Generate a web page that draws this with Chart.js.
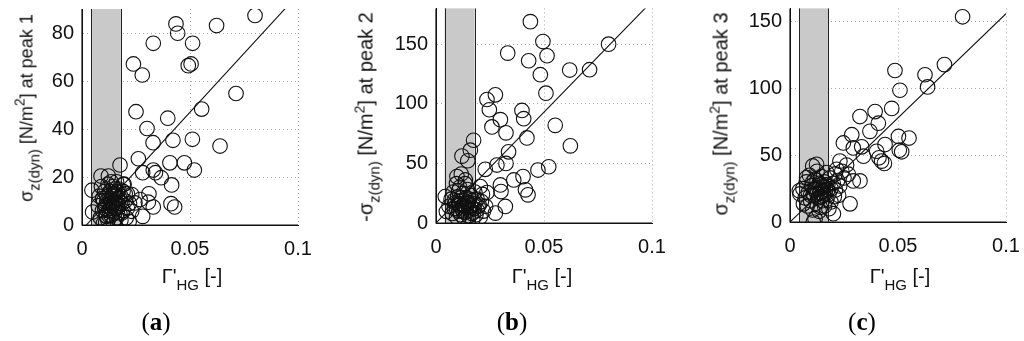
<!DOCTYPE html>
<html>
<head>
<meta charset="utf-8">
<script src="https://cdn.jsdelivr.net/npm/chart.js@4.4.0/dist/chart.umd.min.js"></script>
<style>
html,body{margin:0;padding:0;background:#fff;width:1024px;height:341px;overflow:hidden;}
canvas{position:absolute;left:0;top:0;}
.t{position:absolute;font-family:"Liberation Sans",Arial,sans-serif;font-size:20px;color:#111;white-space:nowrap;line-height:1;}
.yt{transform:translate(-50%,-50%) rotate(-90deg);}
.xt{transform:translate(-50%,-50%);}
.t sub{font-size:15px;vertical-align:-7px;}
.t sup{font-size:14px;vertical-align:8px;}
.pl{position:absolute;font-family:"Liberation Serif","Times New Roman",serif;font-size:25px;color:#000;transform:translate(-50%,-50%);white-space:nowrap;}
.pl b{font-weight:bold;}
</style>
</head>
<body>
<canvas id="ca" width="1024" height="341"></canvas>
<canvas id="cb" width="1024" height="341"></canvas>
<canvas id="cc" width="1024" height="341"></canvas>

<div class="t yt" style="left:27px;top:108px;font-size:18px;">σ<sub>z(dyn)</sub> [N/m<sup>2</sup>] at peak 1</div>
<div class="t yt" style="left:367px;top:117px;">-σ<sub>z(dyn)</sub> [N/m<sup>2</sup>] at peak 2</div>
<div class="t yt" style="left:722px;top:114px;">σ<sub>z(dyn)</sub> [N/m<sup>2</sup>] at peak 3</div>
<div class="t xt" style="left:192px;top:279px;">Γ'<sub>HG</sub> [-]</div>
<div class="t xt" style="left:542px;top:279px;">Γ'<sub>HG</sub> [-]</div>
<div class="t xt" style="left:900px;top:279px;">Γ'<sub>HG</sub> [-]</div>
<div class="pl" style="left:156px;top:322px;">(<b>a</b>)</div>
<div class="pl" style="left:512px;top:322px;">(<b>b</b>)</div>
<div class="pl" style="left:862px;top:322px;">(<b>c</b>)</div>

<script>
// ---- data ----
const xTickValues = [0, 0.05, 0.1];
const xTickLabels = ["0", "0.05", "0.1"];
const yTicksA = [0, 20, 40, 60, 80];
const yTicksB = [0, 50, 100, 150];
const yTicksC = [0, 50, 100, 150];
const yMaxA = 90, yMaxB = 180, yMaxC = 160;
const bandA = [0.0043, 0.018];
const bandB = [0.0040, 0.0179];
const bandC = [0.0042, 0.0177];
const fitA = [[0, -2], [0.1, 96]];
const fitB = [[0, 0], [0.1, 186]];
const fitC = [[0, 0], [0.1, 156]];

const peak1 = [
[0.0801,87.3],[0.0623,83.1],[0.0435,83.8],[0.0443,79.9],[0.0512,75.7],[0.033,75.7],[0.0238,67.1],[0.0279,62.5],
[0.0492,66.4],[0.0505,67.1],[0.0713,54.8],[0.0554,48.3],[0.025,47.2],[0.0397,44.5],[0.0301,40.2],[0.0329,34.3],
[0.0421,35.3],[0.0511,35.7],[0.0639,32.9],[0.0261,27.6],[0.0407,25.9],[0.0474,25.9],[0.052,22.9],[0.033,22.9],
[0.034,21.8],[0.0367,19.7],[0.0281,21.8],[0.0176,25.0],[0.0415,16.7],[0.0412,8.9],[0.0429,7.5],[0.033,7.5],
[0.0307,9.5],[0.031,13.0],[0.0281,3.6],[0.0218,1.5],[0.0088,20.4],[0.0122,20.4],[0.0046,14.5],[0.0049,5.4],
[0.0099,0.6],[0.0114,3.6],[0.023,12.7],[0.0245,9.2],[0.0269,10.6],[0.023,5.7],[0.0191,16.9],
[0.0075,8],[0.008,12],[0.0085,3],[0.009,16],[0.0095,6],[0.010,10],[0.0105,14],[0.011,4],[0.011,8],[0.0115,12],
[0.012,17],[0.012,2],[0.0125,6],[0.013,10],[0.013,14],[0.0135,4],[0.014,8],[0.014,12],[0.0145,16],[0.015,5],
[0.015,10],[0.0155,13],[0.016,7],[0.016,3],[0.0165,11],[0.017,15],[0.017,8],[0.0175,5],[0.018,12],[0.018,2],
[0.0185,9],[0.019,14],[0.019,6],[0.020,10],[0.0205,3],[0.021,13],[0.021,7],[0.022,9],[0.0125,9],[0.0145,1],
[0.016,18],[0.0135,18],[0.0095,11],[0.011,1],[0.0195,17],
[0.0125,13],[0.0135,11],[0.0145,9],[0.0155,7],[0.0165,9],[0.0175,11],[0.0105,7],[0.0115,10],[0.0155,15],[0.0185,5],
[0.0135,7],[0.0145,13],[0.0165,14],[0.0125,4],[0.020,13]
];
const peak2 = [
[0.0437,168.9],[0.0799,150],[0.0495,152.2],[0.0514,140.3],[0.0429,136.1],[0.0332,142.5],[0.0619,128.3],[0.0711,128.6],
[0.0483,124.4],[0.0509,108.9],[0.0275,107.5],[0.0236,103.6],[0.0247,95],[0.0398,94.4],[0.0406,87.5],[0.0298,86.7],
[0.0259,80.6],[0.0324,75.6],[0.0552,81.9],[0.0622,64.7],[0.0421,71.4],[0.0174,69.4],[0.0336,59.7],[0.0159,61.1],
[0.012,56.1],[0.0147,52.2],[0.0228,45],[0.0282,48.6],[0.0324,50],[0.0522,47.2],[0.0472,44.4],[0.0403,38.9],
[0.036,36.1],[0.0298,31.9],[0.0301,26.4],[0.0414,27.8],[0.0426,23.6],[0.0321,13.9],[0.0275,8.3],[0.0236,25.6],
[0.0205,30.6],[0.0097,38.9],[0.0117,41.1],[0.0043,22.2],[0.0048,9.7],[0.0136,36.1],
[0.006,14],[0.007,20],[0.0075,8],[0.008,26],[0.0085,12],[0.009,17],[0.0095,5],[0.010,22],[0.0105,10],[0.011,15],
[0.011,30],[0.0115,7],[0.012,19],[0.012,12],[0.0125,25],[0.013,4],[0.013,15],[0.0135,9],[0.014,21],[0.014,13],
[0.0145,28],[0.015,6],[0.015,17],[0.0155,11],[0.016,23],[0.016,14],[0.0165,8],[0.017,19],[0.017,3],[0.0175,12],
[0.018,16],[0.018,26],[0.0185,7],[0.019,20],[0.019,11],[0.020,15],[0.0205,5],[0.021,18],[0.022,10],[0.023,14],
[0.0215,24],[0.0095,33],[0.0135,33],[0.0105,27],
[0.0085,19],[0.0105,16],[0.0125,10],[0.0145,17],[0.0155,20],[0.0165,13],[0.0115,21],[0.0135,14],[0.0175,9],[0.0195,14],
[0.0095,12],[0.0125,15]
];
const peak3 = [
[0.0799,153.7],[0.0715,117.9],[0.0625,110.3],[0.0637,101.2],[0.0486,113.5],[0.0509,98.7],[0.0394,82.7],[0.0471,85.1],
[0.0324,79],[0.0409,74],[0.037,67.9],[0.0502,64.1],[0.0551,62.9],[0.0517,52.6],[0.0506,53.8],[0.0286,65.4],
[0.0247,59.2],[0.0293,55.5],[0.0332,56.3],[0.034,49.3],[0.0401,53],[0.044,58],[0.0412,48.1],[0.0424,45.6],
[0.0437,43.9],[0.0231,45.6],[0.0262,42.7],[0.0216,39.5],[0.0293,30.8],[0.0324,30.8],[0.027,35.8],[0.0278,13.6],
[0.0201,6.2],[0.0108,0],[0.0116,2.5],[0.0043,23.4],[0.0046,21],[0.0123,43.2],[0.0077,33.3],[0.0062,13.6],
[0.006,25],[0.007,18],[0.0075,30],[0.008,12],[0.0085,22],[0.009,35],[0.0095,16],[0.010,27],[0.0105,9],[0.011,20],
[0.0115,32],[0.012,14],[0.012,25],[0.0125,38],[0.013,18],[0.0135,29],[0.014,11],[0.014,22],[0.0145,34],[0.015,16],
[0.015,26],[0.0155,20],[0.016,30],[0.016,12],[0.0165,24],[0.017,37],[0.017,17],[0.0175,28],[0.018,21],[0.018,10],
[0.0185,33],[0.019,25],[0.019,15],[0.020,29],[0.0205,19],[0.021,36],[0.021,24],[0.022,31],[0.023,27],[0.024,38],
[0.025,33],[0.0105,42],[0.0135,8],[0.0225,20],
[0.0115,24],[0.0125,21],[0.0135,25],[0.0145,19],[0.0155,27],[0.0165,21],[0.0105,30],[0.0145,28],[0.0175,24],[0.0125,31],
[0.0095,20],[0.0155,23]
];

// ---- drawing ----
const bandPlugin = {
  id: 'band',
  beforeDatasetsDraw(chart, args, opts) {
    const {ctx, chartArea, scales} = chart;
    const x1 = scales.x.getPixelForValue(opts.range[0]);
    const x2 = scales.x.getPixelForValue(opts.range[1]);
    ctx.save();
    ctx.fillStyle = '#c9c9c9';
    ctx.fillRect(x1, chartArea.top, x2 - x1, chartArea.bottom - chartArea.top);
    ctx.strokeStyle = '#222';
    ctx.lineWidth = 1;
    ctx.beginPath();
    ctx.moveTo(Math.round(x1) + 0.5, chartArea.top); ctx.lineTo(Math.round(x1) + 0.5, chartArea.bottom);
    ctx.moveTo(Math.round(x2) + 0.5, chartArea.top); ctx.lineTo(Math.round(x2) + 0.5, chartArea.bottom);
    ctx.stroke();
    ctx.restore();
  }
};

const axisLines = {
  id: 'axisLines',
  afterDraw(chart) {
    const {ctx, chartArea} = chart;
    ctx.save();
    ctx.strokeStyle = '#111'; ctx.lineWidth = 1.2; ctx.setLineDash([]);
    ctx.beginPath();
    ctx.moveTo(chartArea.left, chartArea.top); ctx.lineTo(chartArea.left, chartArea.bottom);
    ctx.lineTo(chartArea.right, chartArea.bottom);
    ctx.stroke();
    ctx.restore();
  }
};

function makeChart(id, pts, fit, band, yTicks, yMax, area) {
  const tickFont = {family: '"Liberation Sans", Arial, sans-serif', size: 20};
  const yW = 40, xH = 40;
  new Chart(document.getElementById(id), {
    type: 'scatter',
    data: {
      datasets: [
        {
          type: 'line',
          data: fit.map(p => ({x: p[0], y: p[1]})),
          borderColor: '#111', borderWidth: 1.1, pointRadius: 0, fill: false, order: 1
        },
        {
          data: pts.map(p => ({x: p[0], y: p[1]})),
          pointStyle: 'circle', pointRadius: 7.3, pointBorderWidth: 1.1,
          borderColor: '#111', backgroundColor: 'rgba(0,0,0,0)', order: 2
        }
      ]
    },
    options: {
      responsive: false, animation: false, devicePixelRatio: 1,
      events: [],
      layout: {padding: {left: area.left - yW, right: 1024 - area.right, top: area.top, bottom: 341 - area.bottom - xH}},
      plugins: {legend: {display: false}, tooltip: {enabled: false}, band: {range: band}},
      scales: {
        x: {
          type: 'linear', min: 0, max: 0.1,
          afterBuildTicks: s => { s.ticks = xTickValues.map(v => ({value: v})); },
          afterFit: s => { s.height = xH; s.paddingLeft = 0; s.paddingRight = 0; s.paddingTop = 0; s.paddingBottom = 0; },
          ticks: {font: tickFont, color: '#111', padding: 12, maxRotation: 0,
                  callback: (v) => { const i = xTickValues.findIndex(t => Math.abs(t - v) < 1e-9); return i >= 0 ? xTickLabels[i] : ''; }},
          grid: {color: '#aaa', lineWidth: 1, drawTicks: false},
          border: {display: true, color: '#111', width: 1, dash: [1, 3]}
        },
        y: {
          type: 'linear', min: 0, max: yMax,
          afterBuildTicks: s => { s.ticks = yTicks.map(v => ({value: v})); },
          afterFit: s => { s.width = yW; s.paddingLeft = 0; s.paddingRight = 0; s.paddingTop = 0; s.paddingBottom = 0; },
          ticks: {font: tickFont, color: '#111', padding: 8},
          grid: {color: '#aaa', lineWidth: 1, drawTicks: false},
          border: {display: true, color: '#111', width: 1, dash: [1, 3]}
        }
      }
    },
    plugins: [bandPlugin, axisLines]
  });
}

makeChart('ca', peak1, fitA, bandA, yTicksA, yMaxA, {left: 82, right: 298, top: 9, bottom: 225});
makeChart('cb', peak2, fitB, bandB, yTicksB, yMaxB, {left: 436, right: 652, top: 7, bottom: 223});
makeChart('cc', peak3, fitC, bandC, yTicksC, yMaxC, {left: 790, right: 1006, top: 6, bottom: 222});
</script>
</body>
</html>
